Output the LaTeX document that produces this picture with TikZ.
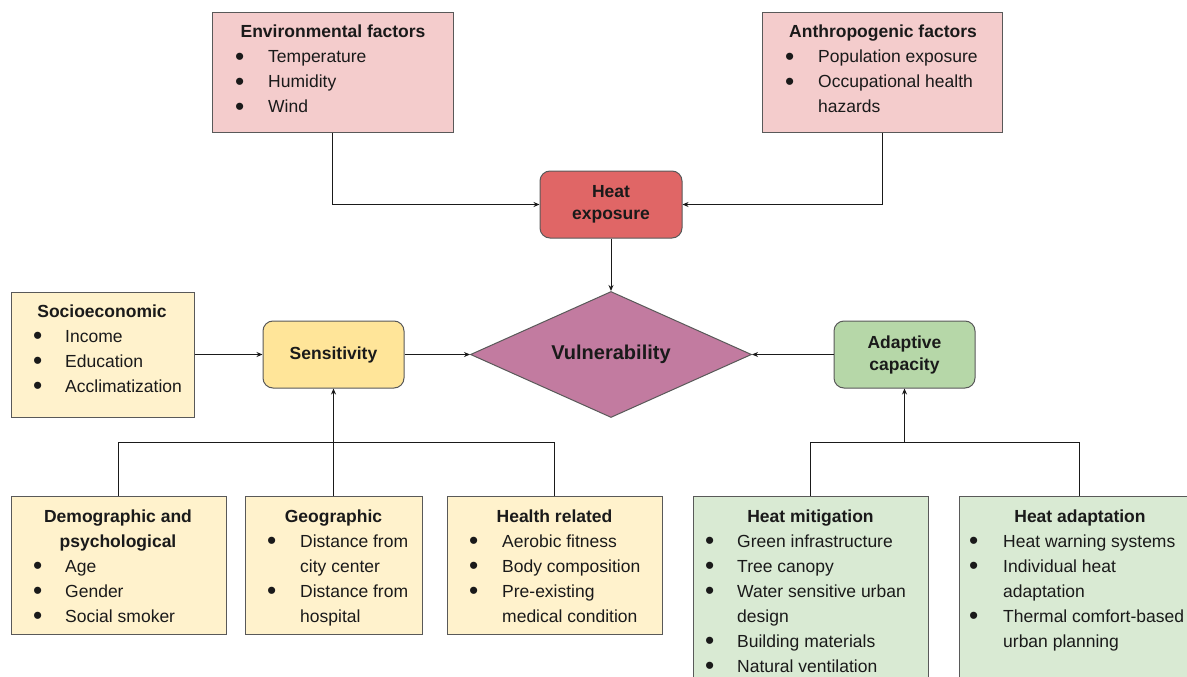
\documentclass[tikz,border=0pt]{standalone}
\usepackage{fontspec}
\setmainfont{Liberation Sans}
\usetikzlibrary{shapes.geometric,arrows.meta}
\definecolor{pinkf}{HTML}{F4CCCC}
\definecolor{redf}{HTML}{E06666}
\definecolor{yelf}{HTML}{FFE599}
\definecolor{creamf}{HTML}{FFF2CC}
\definecolor{vulf}{HTML}{C27BA0}
\definecolor{grnf}{HTML}{B6D7A8}
\definecolor{lgrnf}{HTML}{D9EAD3}
\definecolor{edgec}{HTML}{595959}
\definecolor{ink}{HTML}{1A1A1A}
\newcommand\myfs{\fontsize{17.5}{25}\selectfont}
\newcommand\bul{\raisebox{-2.8pt}{\scalebox{1.5}{•}}}
\newcommand\blist[2]{\begin{tabular}[t]{@{}p{#1}@{}l@{}}#2\end{tabular}}
\begin{document}
\begin{tikzpicture}[x=1pt,y=-1pt,
  box/.style={draw=edgec,line width=1pt,inner sep=0pt},
  rbox/.style={box,rounded corners=10pt,font=\myfs\bfseries\linespread{0.88}\selectfont,align=center,text=ink},
  ttl/.style={anchor=base,inner sep=0pt,font=\myfs\bfseries,text=ink},
  lst/.style={anchor=base west,inner sep=0pt,font=\myfs,text=ink},
  conn/.style={draw=ink,line width=1pt,-{Stealth[length=6pt,width=5pt]}},
  wire/.style={draw=ink,line width=1pt}]
\useasboundingbox (0,0) rectangle (1187,677);
\clip (0,0) rectangle (1187,677);
\fill[white] (0,0) rectangle (1187,677);

% boxes
\node[box,fill=pinkf,minimum width=241pt,minimum height=119pt] (env) at (332.5,72.5) {};
\node[box,fill=pinkf,minimum width=240pt,minimum height=119pt] (anth) at (882,72.5) {};
\node[rbox,fill=redf,minimum width=142pt,minimum height=67pt] (heat) at (611,204.5) {Heat\\exposure};
\node[box,fill=creamf,minimum width=183pt,minimum height=125pt] (soc) at (102.5,354.5) {};
\node[rbox,fill=yelf,minimum width=141pt,minimum height=67pt] (sens) at (333.5,354.5) {Sensitivity};
\node[shape=diamond,aspect=2.2,draw=edgec,line width=1pt,fill=vulf,inner sep=0pt,minimum width=281pt,minimum height=126pt,font=\fontsize{20}{24}\selectfont\bfseries,text=ink] (vul) at (611,354.5) {Vulnerability};
\node[rbox,fill=grnf,minimum width=141pt,minimum height=67pt] (adap) at (904.5,354.5) {Adaptive\\capacity};
\node[box,fill=creamf,minimum width=215pt,minimum height=138pt] (demo) at (118.5,565) {};
\node[box,fill=creamf,minimum width=177pt,minimum height=138pt] (geo) at (333.5,565) {};
\node[box,fill=creamf,minimum width=215pt,minimum height=138pt] (health) at (554.5,565) {};
\node[box,fill=lgrnf,minimum width=235pt,minimum height=210pt] (mit) at (810.5,601) {};
\node[box,fill=lgrnf,minimum width=241pt,minimum height=210pt] (adp) at (1079.5,601) {};

% texts
\node[ttl] (env-t) at (333,38) {Environmental factors};
\node[lst] (env-l) at (235,63) {\blist{33pt}{\bul&Temperature\\\bul&Humidity\\\bul&Wind}};
\node[ttl] (anth-t) at (883,38) {Anthropogenic factors};
\node[lst] (anth-l) at (785,63) {\blist{33pt}{\bul&Population exposure\\\bul&Occupational health\\&hazards}};
\node[ttl] (soc-t) at (102,317) {Socioeconomic};
\node[lst] (soc-l) at (33,342) {\blist{32pt}{\bul&Income\\\bul&Education\\\bul&Acclimatization}};
\node[ttl] (demo-t1) at (118,522) {Demographic and};
\node[ttl] (demo-t2) at (118,547) {psychological};
\node[lst] (demo-l) at (33,572) {\blist{32pt}{\bul&Age\\\bul&Gender\\\bul&Social smoker}};
\node[ttl] (geo-t) at (333.5,522) {Geographic};
\node[lst] (geo-l) at (267,547) {\blist{33pt}{\bul&Distance from\\&city center\\\bul&Distance from\\&hospital}};
\node[ttl] (health-t) at (554.5,522) {Health related};
\node[lst] (health-l) at (469,547) {\blist{33pt}{\bul&Aerobic fitness\\\bul&Body composition\\\bul&Pre-existing\\&medical condition}};
\node[ttl] (mit-t) at (810.5,522) {Heat mitigation};
\node[lst] (mit-l) at (705,547) {\blist{32pt}{\bul&Green infrastructure\\\bul&Tree canopy\\\bul&Water sensitive urban\\&design\\\bul&Building materials\\\bul&Natural ventilation}};
\node[ttl] (adp-t) at (1080,522) {Heat adaptation};
\node[lst] (adp-l) at (969,547) {\blist{34pt}{\bul&Heat warning systems\\\bul&Individual heat\\&adaptation\\\bul&Thermal comfort-based\\&urban planning}};

% connectors
\draw[conn] (env.south) |- (heat.west);
\draw[conn] (anth.south) |- (heat.east);
\draw[conn] (heat.south) -- (vul.north);
\draw[conn] (soc.east) -- (sens.west);
\draw[conn] (sens.east) -- (vul.west);
\draw[conn] (adap.west) -- (vul.east);
\coordinate (jl) at (333.5,442);
\coordinate (jr) at (904.5,442);
\draw[wire] (demo.north) |- (health.north |- jl) -- (health.north);
\draw[conn] (geo.north) -- (sens.south);
\draw[wire] (mit.north) |- (adp.north |- jr) -- (adp.north);
\draw[conn,line width=1.8pt] (jr) -- (adap.south);
\end{tikzpicture}
\end{document}
